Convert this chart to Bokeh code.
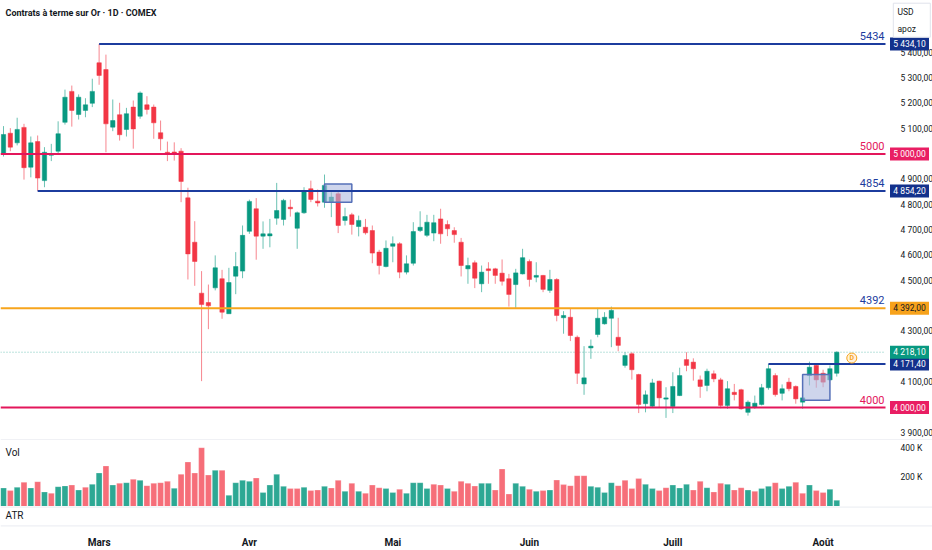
from bokeh.plotting import figure
from bokeh.models import ColumnDataSource, FixedTicker, Span, Label, Range1d, LinearAxis
from bokeh.layouts import column
from bokeh.embed import file_html
from bokeh.resources import INLINE
from bokeh.core.properties import value

# ---------------- data ----------------
TITLE = "Contrats à terme sur Or · 1D · COMEX"

opens = [5001, 5082, 5044, 5105, 4948, 5049, 4895, 4995, 5011, 5125,
         5247, 5156, 5172, 5200, 5360, 5333, 5106, 5155, 5097, 5185,
         5149, 5194, 5185, 5084, 5007, 5008, 5011, 4827, 4652, 4451,
         4414, 4472, 4508, 4370, 4518, 4538, 4695, 4784, 4676, 4677,
         4747, 4742, 4790, 4707, 4768, 4863, 4814, 4810, 4810, 4843,
         4738, 4760, 4714, 4711, 4698, 4613, 4556, 4636, 4646, 4534,
         4569, 4698, 4679, 4688, 4744, 4722, 4698, 4652, 4547, 4571,
         4488, 4547, 4547, 4530, 4508, 4485, 4527, 4576, 4514, 4521,
         4462, 4505, 4354, 4356, 4277, 4093, 4235, 4288, 4330, 4352,
         4277, 4166, 4212, 4130, 4015, 4005, 4104, 4033, 4004, 4047,
         4189, 4179, 4109, 4087, 4133, 4109, 4008, 4060, 4070, 3981,
         4001, 4012, 4078, 4126, 4056, 4100, 4083, 4021, 4126, 4166,
         4135, 4109, 4135]

highs = [5110, 5102, 5143, 5119, 5069, 5073, 5027, 5040, 5129, 5254,
         5270, 5235, 5220, 5297, 5434.1, 5392, 5215, 5202, 5182, 5211,
         5247, 5228, 5195, 5132, 5049, 5046, 5023, 4867, 4735, 4538,
         4485, 4600, 4543, 4551, 4613, 4718, 4820, 4826, 4734, 4744,
         4886, 4823, 4820, 4773, 4869, 4895, 4860, 4919, 4849, 4852,
         4788, 4768, 4757, 4744, 4718, 4622, 4659, 4675, 4652, 4600,
         4731, 4774, 4760, 4760, 4784, 4738, 4711, 4669, 4591, 4580,
         4560, 4573, 4551, 4584, 4527, 4547, 4626, 4584, 4573, 4523,
         4543, 4510, 4380, 4389, 4284, 4242, 4268, 4393, 4376, 4398,
         4354, 4218, 4218, 4133, 4067, 4113, 4106, 4080, 4139, 4157,
         4218, 4194, 4126, 4153, 4146, 4117, 4104, 4093, 4074, 4028,
         4047, 4093, 4171.4, 4135, 4091, 4117, 4087, 4054, 4181, 4172,
         4149, 4166, 4222]

lows = [4990, 5011, 5034, 4899, 4908, 4854.2, 4869, 4972, 5001, 5116,
        5108, 5136, 5145, 5185, 5273, 5007, 5090, 5053, 5069, 5021,
        5139, 5156, 5060, 5014, 4972, 4974, 4810, 4505, 4480, 4104,
        4309, 4462, 4350, 4370, 4447, 4510, 4685, 4583, 4626, 4632,
        4721, 4718, 4753, 4626, 4764, 4810, 4793, 4788, 4751, 4688,
        4718, 4682, 4675, 4682, 4569, 4525, 4553, 4573, 4510, 4525,
        4560, 4692, 4672, 4656, 4646, 4676, 4650, 4517, 4488, 4471,
        4455, 4488, 4488, 4481, 4398, 4393, 4525, 4477, 4494, 4455,
        4452, 4340, 4291, 4262, 4093, 4050, 4192, 4277, 4327, 4238,
        4222, 4157, 4110, 3978, 3981, 4001, 4001, 3959, 3978, 4045,
        4143, 4106, 4038, 4064, 4100, 3997, 3995, 4028, 3991, 3968,
        3995, 4008, 4070, 4043, 4028, 4064, 4015, 3995, 4087, 4078,
        4080, 4107, 4122]

closes = [5077, 5027, 5097, 4946, 5044, 4905, 5007, 5000, 5080, 5224,
          5172, 5224, 5194, 5247, 5310, 5119, 5132, 5076, 5159, 5099,
          5241, 5176, 5123, 5060, 5000, 5004, 4892, 4606, 4576, 4406,
          4401, 4551, 4376, 4493, 4556, 4679, 4813, 4676, 4685, 4685,
          4777, 4817, 4784, 4768, 4853, 4821, 4807, 4876, 4830, 4718,
          4753, 4722, 4738, 4689, 4609, 4560, 4628, 4646, 4534, 4567,
          4694, 4711, 4731, 4729, 4685, 4705, 4682, 4560, 4560, 4510,
          4534, 4540, 4521, 4498, 4446, 4531, 4591, 4505, 4521, 4466,
          4505, 4363, 4363, 4284, 4135, 4117, 4242, 4352, 4356, 4383,
          4245, 4205, 4149, 4012, 4050, 4097, 4038, 4038, 4083, 4126,
          4166, 4153, 4083, 4143, 4113, 4008, 4074, 4051, 3995, 4021,
          4017, 4078, 4153, 4051, 4074, 4074, 4034, 4038, 4159, 4109,
          4100, 4153, 4218.1]

volumes_k = [126, 108, 131, 165, 126, 169, 99, 90, 135, 140,
             146, 112, 131, 151, 228, 276, 146, 158, 162, 185,
             178, 142, 158, 162, 171, 124, 219, 303, 228, 400,
             214, 246, 246, 76, 162, 178, 171, 194, 95, 146,
             219, 137, 122, 122, 131, 108, 112, 137, 126, 178,
             103, 158, 103, 90, 146, 128, 122, 95, 117, 90,
             162, 162, 122, 151, 146, 122, 103, 171, 158, 139,
             158, 158, 112, 255, 85, 158, 137, 117, 103, 108,
             112, 180, 149, 142, 210, 210, 137, 131, 95, 162,
             142, 178, 122, 190, 151, 122, 108, 128, 146, 126,
             151, 112, 171, 128, 99, 158, 151, 112, 128, 112,
             103, 122, 137, 162, 122, 137, 165, 90, 146, 108,
             95, 117, 42]

volume_up = [1, 0, 1, 0, 1, 0, 1, 0, 1, 1,
             0, 1, 0, 1, 1, 0, 1, 0, 1, 0,
             1, 0, 0, 0, 0, 1, 0, 0, 0, 0,
             0, 1, 0, 1, 1, 1, 1, 0, 1, 1,
             1, 1, 0, 0, 1, 0, 0, 1, 0, 0,
             1, 0, 1, 0, 0, 0, 1, 1, 0, 1,
             1, 1, 1, 0, 0, 1, 0, 0, 0, 0,
             1, 1, 0, 0, 0, 1, 1, 0, 1, 0,
             1, 0, 0, 0, 0, 0, 1, 1, 1, 1,
             0, 0, 0, 0, 1, 1, 0, 0, 1, 1,
             1, 0, 0, 1, 0, 0, 1, 0, 0, 1,
             0, 1, 1, 0, 1, 1, 0, 0, 1, 0,
             0, 1, 1]

month_idx = [14, 36, 57, 77, 98, 120]
month_labels = ["Mars", "Avr", "Mai", "Juin", "Juill", "Août"]

price_ticks = [3900, 4100, 4300, 4500, 4600, 4700, 4800, 4900, 5100, 5200, 5300, 5400]
vol_ticks = [200, 400]

level_values = [5434.1, 5000.0, 4854.2, 4392.0, 4000.0, 4171.4]
level_start = [14, None, 5, None, None, 112]
level_names = ["5434", "5000", "4854", "4392", "4000", ""]
level_kind = ["blue", "crimson", "blue", "orange", "crimson", "blue"]
level_name_kind = ["blue", "crimson", "blue", "blue", "crimson", "blue"]

last_price = 4218.1

zone_left = [47, 117]
zone_right = [51, 121]
zone_bottom = [4810, 4029]
zone_top = [4882, 4130]

event_idx = [124.2]
event_price = [4195]
event_text = ["D"]

# ---------------- style / geometry ----------------
FONT = "Roboto"
TXT = "#131722"
GREEN = "#089981"
RED = "#F23645"
SEP = "#e0e3eb"
COL = {"blue": "#1c3c9e", "crimson": "#e3165b", "orange": "#f7a51c"}
BOX_BG = {"blue": "#13318c", "crimson": "#e91e63", "orange": "#f7a21b", "last": GREEN}
BOX_FG = {"blue": "white", "crimson": "white", "orange": TXT, "last": "white"}
SCALE_FONT = "8.5px"

W = 932
BAR_PX, BAR0_PX = 6.83, 3.0          # horizontal scale of the bars
P_PX, P_REF, P_REF_PX = 0.2535, 5000.0, 153.5   # vertical scale of prices
V_PX = 0.147                          # px per thousand contracts
PRICE_H, VOL_H, ATR_FRAME, AXIS_H = 440, 66, 24, 20
SCALE_PX = 885                        # left edge of the price scale


def px_x(px):
    return (px - BAR0_PX) / BAR_PX


def py_price(py):
    return P_REF - (py - P_REF_PX) / P_PX


X_START, X_END, X_EDGE = px_x(0), px_x(W), px_x(SCALE_PX)
xr = Range1d(X_START, X_END)


def price_fmt(v):
    cents = int(round(v * 100))
    units, frac = divmod(cents, 100)
    th, rest = divmod(units, 1000)
    return f"{th} {rest:03d},{frac:02d}"


def make_fig(height, y_range, x_axis=None, bottom=0):
    p = figure(width=W, height=height, x_range=xr, y_range=y_range,
               output_backend="svg", toolbar_location=None,
               y_axis_location=None, x_axis_location=x_axis,
               min_border_left=0, min_border_right=0, min_border_top=0,
               min_border_bottom=bottom, background_fill_color="white",
               border_fill_color="white", outline_line_color=None)
    p.xgrid.visible = False
    p.ygrid.visible = False
    return p


def style_axis(ax, size):
    ax.axis_line_color = None
    ax.major_tick_line_color = None
    ax.minor_tick_line_color = None
    ax.major_label_text_font = FONT
    ax.major_label_text_font_size = size
    ax.major_label_text_color = TXT


def scale_axis(p, ticks, overrides):
    ax = LinearAxis(fixed_location=X_EDGE, ticker=FixedTicker(ticks=ticks),
                    major_label_overrides=overrides, major_label_standoff=9)
    style_axis(ax, SCALE_FONT)
    p.add_layout(ax, "right")


# ---------------- price pane ----------------
pp = make_fig(PRICE_H, Range1d(py_price(PRICE_H), py_price(0)))
scale_axis(pp, price_ticks, {t: price_fmt(t) for t in price_ticks})

idx = list(range(len(closes)))
up = [c >= o for o, c in zip(opens, closes)]
btop, bbot = [], []
for o, c in zip(opens, closes):
    t, b = max(o, c), min(o, c)
    if t - b < 4:
        m = (t + b) / 2
        t, b = m + 2, m - 2
    btop.append(t)
    bbot.append(b)
src = ColumnDataSource(dict(x=idx, h=highs, l=lows, top=btop, bot=bbot,
                            color=[GREEN if u else RED for u in up]))

pp.segment(x0=[X_START], y0=[last_price], x1=[X_EDGE], y1=[last_price],
           line_color=GREEN, line_alpha=0.55, line_dash="1 2", line_width=1)

pp.segment(x0="x", y0="l", x1="x", y1="h", line_color="color", line_alpha=0.6,
           line_width=1, source=src)
pp.vbar(x="x", top="top", bottom="bot", width=0.64, fill_color="color",
        line_color="color", line_width=0.5, source=src)

pp.quad(left=zone_left, right=zone_right, bottom=zone_bottom, top=zone_top,
        fill_color="#aeb9df", fill_alpha=0.6, line_color="#5670b8", line_width=1.5)

for val, start, name, kind, nkind in zip(level_values, level_start, level_names,
                                         level_kind, level_name_kind):
    x0 = X_START if start is None else start
    pp.segment(x0=[x0], y0=[val], x1=[X_EDGE], y1=[val],
               line_color=COL[kind], line_width=2)
    if name:
        pp.add_layout(Label(x=X_EDGE, y=val, x_offset=-1, y_offset=4, text=name,
                            text_align="right", text_baseline="bottom",
                            text_color=COL[nkind], text_font=FONT,
                            text_font_size="11px"))

# price tags on the scale
tag_vals = level_values + [last_price]
tag_kinds = level_kind + ["last"]
tag_x = px_x(909)
tsrc = ColumnDataSource(dict(x=[tag_x] * len(tag_vals), y=tag_vals,
                             t=[price_fmt(v) for v in tag_vals],
                             bg=[BOX_BG[k] for k in tag_kinds],
                             fg=[BOX_FG[k] for k in tag_kinds]))
pp.rect(x="x", y="y", width=39, height=13, width_units="screen",
        height_units="screen", fill_color="bg", line_color=None, source=tsrc,
        level="overlay")
pp.text(x="x", y="y", text="t", text_color="fg", text_font=value(FONT),
        text_font_size=SCALE_FONT, text_align="center", text_baseline="middle",
        source=tsrc, level="overlay")

# currency / unit box
pp.rect(x=[px_x(911.3)], y=[py_price(19.7)], width=37, height=34,
        width_units="screen", height_units="screen", fill_color="white",
        line_color=SEP, line_width=1, level="overlay")
pp.text(x=[px_x(897)] * 2, y=[py_price(11.7), py_price(28.3)],
        text=["USD", "apoz"], text_color=TXT, text_font=value(FONT),
        text_font_size="8.5px", text_align="left", text_baseline="middle",
        level="overlay")

pp.scatter(x=event_idx, y=event_price, size=10, marker="circle",
           fill_color="#fff1dc", line_color="#f7a51c", line_width=1)
pp.text(x=event_idx, y=event_price, text=event_text, text_font=value(FONT),
        text_font_size="7px", text_font_style="bold", text_color="#f7a51c",
        text_align="center", text_baseline="middle")

pp.add_layout(Label(x=px_x(5), y=py_price(12), text=TITLE,
                    text_align="left", text_baseline="middle", text_color=TXT,
                    text_font=FONT, text_font_size="9px", text_font_style="bold"))
pp.add_layout(Span(location=py_price(PRICE_H - 0.5), dimension="width",
                   line_color=SEP, line_width=1))

# ---------------- volume pane ----------------
pv = make_fig(VOL_H, Range1d(0, VOL_H / V_PX))
scale_axis(pv, vol_ticks, {t: f"{t} K" for t in vol_ticks})
vsrc = ColumnDataSource(dict(x=idx, v=volumes_k,
                             color=[GREEN if u else RED for u in volume_up],
                             alpha=[0.85 if u else 0.72 for u in volume_up]))
pv.vbar(x="x", top="v", width=0.86, fill_color="color", fill_alpha="alpha",
        line_color="white", line_alpha=0.5, line_width=0.5, source=vsrc)
pv.add_layout(Label(x=px_x(5), y=(VOL_H - 12) / V_PX, text="Vol",
                    text_align="left", text_baseline="middle", text_color=TXT,
                    text_font=FONT, text_font_size="10px"))

# ---------------- ATR pane + time axis ----------------
pa = make_fig(ATR_FRAME + AXIS_H, Range1d(0, ATR_FRAME), x_axis="below", bottom=AXIS_H)
xa = pa.xaxis[0]
xa.ticker = FixedTicker(ticks=month_idx)
xa.major_label_overrides = {i: m for i, m in zip(month_idx, month_labels)}
xa.major_label_standoff = 4
style_axis(xa, "10px")
xa.major_label_text_font_style = "bold"
pa.add_layout(Span(location=ATR_FRAME - 0.5, dimension="width", line_color=SEP, line_width=1))
pa.add_layout(Span(location=0.5, dimension="width", line_color=SEP, line_width=1))
pa.add_layout(Label(x=px_x(5), y=ATR_FRAME - 11, text="ATR", text_align="left",
                    text_baseline="middle", text_color=TXT, text_font=FONT,
                    text_font_size="10px"))

layout = column(pp, pv, pa, spacing=0)
open("out.html", "w").write(file_html(layout, INLINE, title=TITLE))
